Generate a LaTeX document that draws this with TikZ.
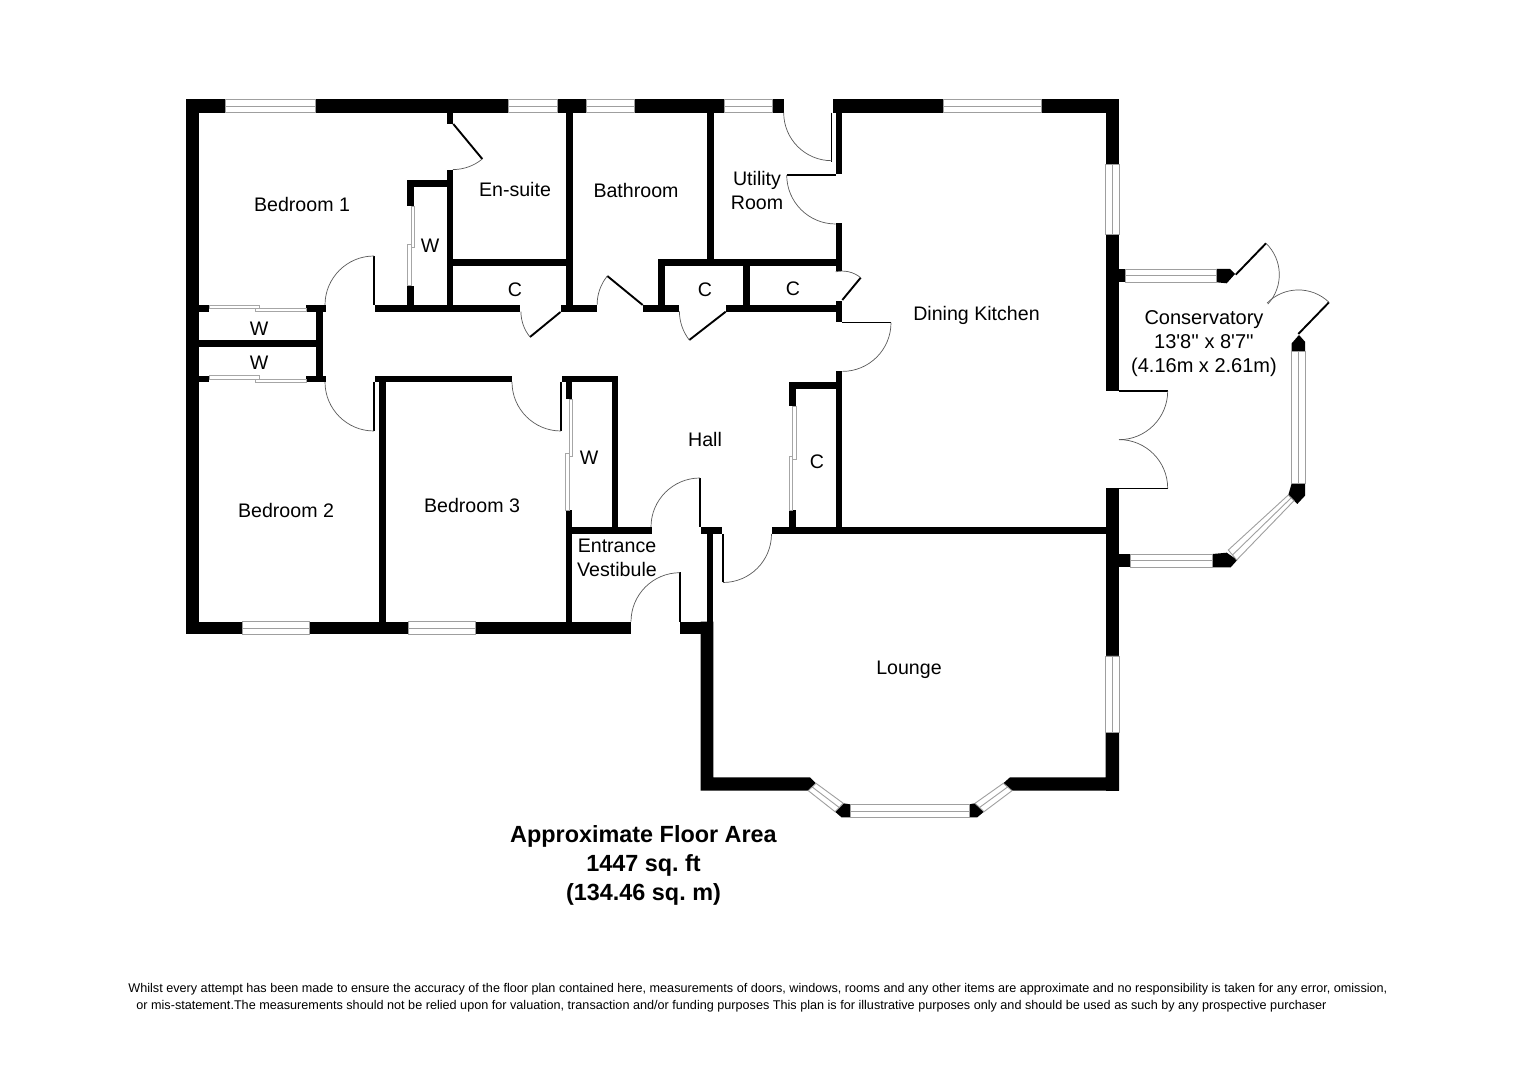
\documentclass[tikz,border=0pt]{standalone}
\usepackage{fontspec}
\setmainfont{Liberation Sans}
\newfontfamily\plainfont{Liberation Sans}
\usetikzlibrary{positioning}

\begin{document}
\frenchspacing
\begin{tikzpicture}[
    x=0.5pt, y=-0.5pt,
    wall/.style={fill=black},
    glass/.style={draw=gray!75, line width=0.45pt, fill=white},
    panel/.style={draw=gray!70, line width=0.45pt, fill=white},
    leaf/.style={draw=black, line width=0.65pt},
    heavyleaf/.style={draw=black, line width=0.95pt},
    swing/.style={draw=gray!70!black, line width=0.35pt},
    room/.style={font=\fontsize{9.8}{12}\selectfont, align=center, inner sep=0pt},
    area/.style={font=\fontsize{11.7}{14.6}\selectfont\bfseries, align=center, inner sep=0pt},
    note/.style={font=\fontsize{6.32}{8}\selectfont, anchor=west, inner sep=0pt}
]
\useasboundingbox (0,0) rectangle (1528,1080);

% Outer walls, top
\fill[wall] (186,99.5) rectangle (225,112.7);
\fill[wall] (315,99.5) rectangle (508,112.7);
\fill[wall] (557,99.5) rectangle (586,112.7);
\fill[wall] (634,99.5) rectangle (724,112.7);
\fill[wall] (772,99.5) rectangle (783.7,112.7);
\fill[wall] (832.7,99.5) rectangle (943,112.7);
\fill[wall] (1041,99.5) rectangle (1119,112.7);

% Outer walls, left and bottom
\fill[wall] (186,99.5) rectangle (199.3,634.3);
\fill[wall] (186,621.7) rectangle (242.3,634.3);
\fill[wall] (309,621.7) rectangle (408.7,634.3);
\fill[wall] (475.7,621.7) rectangle (631,634.3);
\fill[wall] (680,621.7) rectangle (713.3,634.3);

% Outer walls, right
\fill[wall] (1105.5,99.5) rectangle (1119,164.3);
\fill[wall] (1105.5,234.3) rectangle (1119,390.7);
\fill[wall] (1105.5,488.3) rectangle (1119,656);
\fill[wall] (1105.5,732) rectangle (1119,790.7);

% Lounge walls and bay blocks
\fill[wall] (700.7,527.3) rectangle (722.3,534);
\fill[wall] (707.3,527.3) rectangle (713.3,634);
\fill[wall] (700.7,621.7) -- (713.3,621.7) -- (713.3,777.3) -- (810,777.3) -- (816,783.3) -- (808.3,790.7) -- (700.7,790.7) -- cycle;
\fill[wall] (843.3,803.3) -- (850,804.3) -- (850,817.5) -- (841.7,817.5) -- (835,811.7) -- cycle;
\fill[wall] (969.3,804.3) -- (975,803.3) -- (984,811.7) -- (977,817.5) -- (969.3,817.5) -- cycle;
\fill[wall] (1003.3,783.3) -- (1010,777.3) -- (1105.5,777.3) -- (1105.5,732) -- (1119,732) -- (1119,790.7) -- (1012,790.7) -- cycle;

% Bedroom 1 and en-suite
\fill[wall] (447.3,112) rectangle (453.3,124);
\fill[wall] (447.3,170) rectangle (453.3,311.7);
\fill[wall] (407.3,180) rectangle (447.3,186.7);
\fill[wall] (407.3,180) rectangle (414,206);
\fill[wall] (407.3,285.7) rectangle (414,305);
\fill[wall] (453,259.3) rectangle (566,265.7);
\fill[wall] (566,112) rectangle (572.7,311.7);

% Hall, north side
\fill[wall] (375,305) rectangle (520,311.7);
\fill[wall] (560.7,305) rectangle (597.3,311.7);
\fill[wall] (642.7,305) rectangle (679,311.7);
\fill[wall] (725.7,305) rectangle (835.7,311.7);
\fill[wall] (658,259.3) rectangle (664.7,305);
\fill[wall] (658,259.3) rectangle (842.3,265.7);
\fill[wall] (707.3,112) rectangle (714,259.3);
\fill[wall] (743.3,265) rectangle (750,305);

% Kitchen west wall
\fill[wall] (835.7,112) rectangle (842.3,174.3);
\fill[wall] (835.7,223.3) rectangle (842.3,271);
\fill[wall] (835.7,300.7) rectangle (842.3,322.3);
\fill[wall] (835.7,371) rectangle (842.3,534);

% Wardrobes on the west side
\fill[wall] (199,305) rectangle (209,311.7);
\fill[wall] (306,305) rectangle (326,311.7);
\fill[wall] (199,375.7) rectangle (209,382.3);
\fill[wall] (306,375.7) rectangle (326,382.3);
\fill[wall] (316,305) rectangle (322.7,382);
\fill[wall] (199,340) rectangle (316,346.7);

% Bedroom 3
\fill[wall] (375,375.7) rectangle (512.3,382.3);
\fill[wall] (379,375.7) rectangle (385.7,622);

% Wardrobe and vestibule
\fill[wall] (561.7,375.7) rectangle (618.3,382.3);
\fill[wall] (565.7,375.7) rectangle (572.3,399.3);
\fill[wall] (611.7,375.7) rectangle (618.3,527.3);
\fill[wall] (565.7,510) rectangle (572.3,622);
\fill[wall] (565.7,527.3) rectangle (651.7,534);

% Hall cupboard and dining kitchen south wall
\fill[wall] (789.3,382.3) rectangle (835.7,389);
\fill[wall] (789.3,382.3) rectangle (796,406);
\fill[wall] (789.3,510) rectangle (796,527.3);
\fill[wall] (771.7,527.3) rectangle (1105.5,534);

% Conservatory blocks
\fill[wall] (1119,269) rectangle (1125.7,282.3);
\fill[wall] (1216.7,269) -- (1230,269) -- (1235,274) -- (1226.7,283.3) -- (1216.7,282.3) -- cycle;
\fill[wall] (1291.7,343.3) -- (1299,335) -- (1305,341.7) -- (1305,351.7) -- (1291.7,351.7) -- cycle;
\fill[wall] (1291.7,483.3) -- (1305,483.3) -- (1305,495.7) -- (1297.3,504) -- (1288.3,495) -- cycle;
\fill[wall] (1212.7,554) -- (1226.7,552.7) -- (1237.3,560) -- (1230.7,567.3) -- (1212.7,567.3) -- cycle;
\fill[wall] (1119,554) rectangle (1130.7,567.3);

% Windows
\draw[glass] (225,99.5) rectangle (315,112.7) (225,106) -- (315,106);
\draw[glass] (508,99.5) rectangle (557,112.7) (508,106) -- (557,106);
\draw[glass] (586,99.5) rectangle (634,112.7) (586,106) -- (634,106);
\draw[glass] (724,99.5) rectangle (772,112.7) (724,106) -- (772,106);
\draw[glass] (943,99.5) rectangle (1041,112.7) (943,106) -- (1041,106);
\draw[glass] (242.3,621.7) rectangle (309,634.3) (242.3,628) -- (309,628);
\draw[glass] (408.7,621.7) rectangle (475.7,634.3) (408.7,628) -- (475.7,628);
\draw[glass] (1105.5,164.3) rectangle (1119,234.3) (1112.2,164.3) -- (1112.2,234.3);
\draw[glass] (1105.5,656) rectangle (1119,732) (1112.2,656) -- (1112.2,732);
\draw[glass] (816,783.3) -- (843.3,803.3) -- (835,811.7) -- (808.3,790.7) -- cycle (812.2,787) -- (839.2,807.5);
\draw[glass] (850,804.3) rectangle (969.3,817.5) (850,811) -- (969.3,811);
\draw[glass] (1003.3,783.3) -- (975,803.3) -- (984,811.7) -- (1012,790.7) -- cycle (1007.6,787) -- (979.5,807.5);

% Conservatory windows
\draw[glass] (1125.7,269) rectangle (1216.7,282.3) (1125.7,275.6) -- (1216.7,275.6);
\draw[glass] (1291.7,351.7) rectangle (1305,483.3) (1298.3,351.7) -- (1298.3,483.3);
\draw[glass] (1288.3,495) -- (1228.3,550) -- (1236.7,560) -- (1294,500.7) -- cycle (1291.2,497.8) -- (1232.5,555);
\draw[glass] (1130.7,554) rectangle (1212.7,567.3) (1130.7,560.6) -- (1212.7,560.6);

% Sliding panels
\draw[panel] (209,305) rectangle (259.3,308.3);
\draw[panel] (255.7,308.3) rectangle (306,311.7);
\draw[panel] (209,375.7) rectangle (259.3,379);
\draw[panel] (255.7,379) rectangle (306,382.3);
\draw[panel] (411,206) rectangle (414.3,247.3);
\draw[panel] (407.7,244) rectangle (411,285.7);
\draw[panel] (569,399.3) rectangle (572.3,456);
\draw[panel] (565.7,453.3) rectangle (569,510);
\draw[panel] (792.7,406) rectangle (796,459.3);
\draw[panel] (789.3,456) rectangle (792.7,510);

% Doors with square leaves
\draw[leaf] (374,305) -- (374,256);
\draw[swing] (325,305) arc[start angle=180, end angle=270, radius=49];
\draw[leaf] (374,382) -- (374,431);
\draw[swing] (325,382) arc[start angle=180, end angle=90, radius=49];
\draw[leaf] (561,382) -- (561,431);
\draw[swing] (512,382) arc[start angle=180, end angle=90, radius=49];
\draw[leaf] (831.7,112.7) -- (831.7,161.7);
\draw[swing] (783.7,112.7) arc[start angle=180, end angle=90, radius=48];
\draw[leaf] (835.7,175) -- (786.7,175);
\draw[swing] (786.7,175) arc[start angle=180, end angle=90, radius=49];
\draw[leaf] (842.3,322.7) -- (891,322.7);
\draw[swing] (891,322.7) arc[start angle=0, end angle=90, radius=48.7];
\draw[leaf] (700,527) -- (700,478);
\draw[swing] (651,527) arc[start angle=180, end angle=270, radius=49];
\draw[leaf] (723,534) -- (723,582.5);
\draw[swing] (771.5,534) arc[start angle=0, end angle=90, radius=48.5];
\draw[leaf] (680,621.7) -- (680,572.5);
\draw[swing] (631,621.7) arc[start angle=180, end angle=270, radius=49];
\draw[leaf] (1119,391) -- (1167.7,391);
\draw[swing] (1167.7,391) arc[start angle=0, end angle=90, radius=48.7];
\draw[leaf] (1119,488.3) -- (1167.7,488.3);
\draw[swing] (1167.7,488.3) arc[start angle=0, end angle=-90, radius=48.7];

% Doors with angled leaves
\draw[heavyleaf] (453.3,124) -- (482.3,159);
\draw[swing] (482.3,159) arc[start angle=50.4, end angle=90, radius=46];
\draw[heavyleaf] (560.5,312) -- (530,337);
\draw[swing] (530,337) arc[start angle=140.7, end angle=180, radius=40];
\draw[heavyleaf] (642.7,305) -- (607.3,276);
\draw[swing] (607.3,276) arc[start angle=219, end angle=180, radius=45.7];
\draw[heavyleaf] (725.7,311.7) -- (689.3,340);
\draw[swing] (689.3,340) arc[start angle=142, end angle=180, radius=46.5];
\draw[heavyleaf] (842.3,300) -- (860.7,277.7);
\draw[swing] (860.7,277.7) arc[start angle=-50.5, end angle=-103, radius=29];
\draw[heavyleaf] (1235.7,274.7) -- (1266,243.3);
\draw[swing] (1266,243.3) arc[start angle=-46, end angle=42.5, radius=43.6];
\draw[heavyleaf] (1298.3,334) -- (1329,302.3);
\draw[swing] (1329,302.3) arc[start angle=-46, end angle=-135.6, radius=44];

% Room labels
\node[room] (bedroomone) at (302,204.5) {Bedroom 1};
\node[room] (ensuite) at (515,189.5) {En-suite};
\node[room] (bathroom) at (636,190.5) {Bathroom};
\node[room] (utility) at (757,190) {Utility\\Room};
\node[room] (wardrobeone) at (430,246) {W};
\node[room] (cupboardone) at (515,290) {C};
\node[room] (cupboardtwo) at (705,290) {C};
\node[room] (cupboardthree) at (793,289) {C};
\node[room] (wardrobetwo) at (259,329) {W};
\node[room] (wardrobethree) at (259,362.5) {W};
\node[room] (bedroomtwo) at (286,510) {Bedroom 2};
\node[room] (bedroomthree) at (472,505.5) {Bedroom 3};
\node[room] (wardrobefour) at (589,458) {W};
\node[room] (hall) at (705,439.5) {Hall};
\node[room] (cupboardfour) at (817,462) {C};
\node[room] (vestibule) at (617,557.5) {Entrance\\Vestibule};
\node[room] (kitchen) at (976.5,315) {Dining Kitchen};
\node[room] (lounge) at (909,670) {Lounge};
\node[room, font=\fontsize{10}{12.2}\plainfont] (conservatory) at (1204,343.5) {Conservatory\\13'8'' x 8'7''\\(4.16m x 2.61m)};

% Area and small print
\node[area] (floorarea) at (643.5,865.5) {Approximate Floor Area\\1447 sq. ft\\(134.46 sq. m)};
\node[note] (noteone) at (128,989) {Whilst every attempt has been made to ensure the accuracy of the floor plan contained here, measurements of doors, windows, rooms and any other items are approximate and no responsibility is taken for any error, omission,};
\node[note] (notetwo) at (136,1006.5) {or mis-statement.The measurements should not be relied upon for valuation, transaction and/or funding purposes This plan is for illustrative purposes only and should be used as such by any prospective purchaser};

\end{tikzpicture}
\end{document}
